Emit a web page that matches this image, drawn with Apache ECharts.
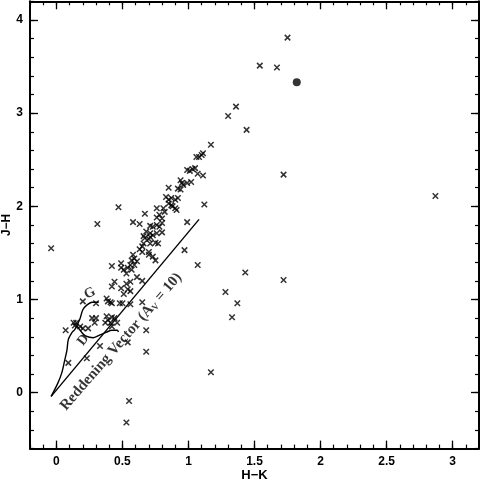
<!DOCTYPE html>
<html>
<head>
<meta charset="utf-8">
<script src="https://cdn.jsdelivr.net/npm/echarts@6/dist/echarts.min.js"></script>
<style>
  html, body { margin: 0; padding: 0; background: #fff; }
  #chart { width: 480px; height: 481px; }
</style>
</head>
<body>
<div id="chart"></div>
<script>
// stars (crosses): H-K and J-H colours
var crossHK = [-0.04, 0.31, 0.47, 1.12, 0.99, 0.97, 1.07, 1.43, 1.72, 1.28, 1.37, 1.33, 1.17, 0.55, 0.53,
  0.68, 0.68, 0.54, 0.33, 0.23, 0.09, 1.75, 1.54, 1.67, 1.36, 1.30, 1.44, 1.17, 1.11, 1.10,
  1.08, 1.06, 1.11, 1.72, 2.87, 0.99, 1.01, 1.03, 1.05, 1.07, 0.94, 0.95, 0.96, 0.99, 1.02,
  0.85, 0.92, 0.94, 0.83, 0.85, 0.87, 0.90, 0.92, 0.85, 0.87, 0.90, 0.91, 0.76, 0.81, 0.82,
  0.78, 0.76, 0.80, 0.67, 0.58, 0.63, 0.71, 0.73, 0.76, 0.78, 0.68, 0.71, 0.73, 0.76, 0.80,
  0.66, 0.67, 0.70, 0.71, 0.71, 0.75, 0.77, 0.66, 0.65, 0.63, 0.65, 0.70, 0.70, 0.73, 0.75,
  0.58, 0.59, 0.57, 0.61, 0.59, 0.56, 0.54, 0.57, 0.42, 0.49, 0.49, 0.51, 0.53, 0.44, 0.42,
  0.49, 0.53, 0.56, 0.61, 0.65, 0.20, 0.30, 0.54, 0.56, 0.51, 0.38, 0.39, 0.41, 0.42, 0.48,
  0.50, 0.56, 0.65, 0.27, 0.30, 0.29, 0.38, 0.39, 0.42, 0.44, 0.37, 0.41, 0.46, 0.42, 0.07,
  0.13, 0.15, 0.14, 0.18, 0.20, 0.24, 0.80, 0.88];
var crossJH = [1.55, 1.81, 1.99, 2.02, 1.83, 1.53, 1.37, 1.29, 1.21, 1.08, 0.96, 0.81, 0.22, -0.09, -0.32,
  0.67, 0.44, 0.54, 0.50, 0.37, 0.32, 3.81, 3.51, 3.49, 3.07, 2.97, 2.82, 2.66, 2.57, 2.55,
  2.53, 2.53, 2.33, 2.34, 2.11, 2.39, 2.38, 2.40, 2.41, 2.35, 2.28, 2.25, 2.23, 2.25, 2.26,
  2.20, 2.19, 2.18, 2.10, 2.07, 2.09, 2.07, 2.09, 2.03, 2.01, 1.98, 1.96, 1.98, 1.98, 1.94,
  1.91, 1.88, 1.87, 1.92, 1.83, 1.81, 1.79, 1.78, 1.80, 1.78, 1.73, 1.71, 1.69, 1.71, 1.72,
  1.68, 1.66, 1.65, 1.67, 1.60, 1.61, 1.60, 1.60, 1.57, 1.54, 1.51, 1.51, 1.48, 1.46, 1.42,
  1.48, 1.44, 1.42, 1.41, 1.37, 1.37, 1.34, 1.32, 1.36, 1.39, 1.34, 1.32, 1.28, 1.19, 1.14,
  1.12, 1.17, 1.19, 1.24, 1.20, 0.98, 0.96, 1.11, 1.09, 1.06, 1.01, 0.98, 0.97, 0.96, 0.96,
  0.96, 0.95, 0.97, 0.80, 0.80, 0.75, 0.82, 0.78, 0.81, 0.80, 0.75, 0.75, 0.75, 0.71, 0.67,
  0.75, 0.75, 0.72, 0.71, 0.69, 0.69, 1.82, 2.00];

// the single filled dot
var dotHK = [1.82];
var dotJH = [3.33];

// giant branch (G) and dwarf sequence (D)
var giantHK = [-0.04, 0.01, 0.04, 0.06, 0.08, 0.09, 0.115, 0.14, 0.155, 0.18, 0.20, 0.23, 0.27, 0.32];
var giantJH = [-0.04, 0.10, 0.21, 0.33, 0.46, 0.57, 0.64, 0.68, 0.72, 0.80, 0.89, 0.94, 0.97, 0.97];
var dwarfHK = [0.155, 0.19, 0.22, 0.28, 0.33, 0.38, 0.42, 0.46, 0.47];
var dwarfJH = [0.72, 0.65, 0.61, 0.59, 0.62, 0.65, 0.67, 0.67, 0.65];

// reddening vector A_V = 10
var vectorHK = [-0.04, 1.08];
var vectorJH = [-0.04, 1.86];

// annotation texts and their anchors
var noteText = ['G', 'D', 'Reddening Vector (A{s|V} = 10)'];
var noteHK = [0.254, 0.203, 0.05];
var noteJH = [1.066, 0.565, -0.17];
var noteAngle = [28, 52, 49];
var noteAlign = ['center', 'center', 'left'];
var noteSize = [14, 14, 15];

function pairs(xs, ys) {
  return xs.map(function (x, i) { return [x, ys[i]]; });
}

var font = 'Liberation Sans, Arial, sans-serif';
var serif = 'Liberation Serif, Times New Roman, serif';
var ink = '#000';

var minorX = {
  type: 'value', gridIndex: 0, min: -0.2, max: 3.2, interval: 0.1,
  axisLine: { show: true, onZero: false, lineStyle: { color: ink, width: 2 } },
  axisTick: { show: true, inside: true, length: 4, lineStyle: { color: ink, width: 1.2 } },
  axisLabel: { show: false }, splitLine: { show: false }
};
var minorY = {
  type: 'value', gridIndex: 0, min: -0.6, max: 4.2, interval: 0.2,
  axisLine: { show: true, onZero: false, lineStyle: { color: ink, width: 2 } },
  axisTick: { show: true, inside: true, length: 4, lineStyle: { color: ink, width: 1.2 } },
  axisLabel: { show: false }, splitLine: { show: false }
};
var majorX = {
  type: 'value', gridIndex: 1, min: 0, max: 3, interval: 0.5,
  axisLine: { show: false, onZero: false },
  axisTick: { show: true, inside: true, length: 8, lineStyle: { color: ink, width: 1.3 } },
  axisLabel: { show: false, color: ink, fontFamily: font, fontWeight: 'bold', fontSize: 12, margin: 7 },
  splitLine: { show: false }
};
var majorY = {
  type: 'value', gridIndex: 1, min: 0, max: 4, interval: 1,
  axisLine: { show: false, onZero: false },
  axisTick: { show: true, inside: true, length: 8, lineStyle: { color: ink, width: 1.3 } },
  axisLabel: { show: false, color: ink, fontFamily: font, fontWeight: 'bold', fontSize: 12, margin: 7 },
  splitLine: { show: false }
};

var chart = echarts.init(document.getElementById('chart'), null, { renderer: 'canvas' });

var lineStyle = { color: ink, width: 1.4 };

chart.setOption({
  animation: false,
  backgroundColor: '#fff',
  grid: [
    { left: 30, right: 1, top: 1.3, bottom: 32.4, containLabel: false, outerBoundsMode: 'none' },
    { left: 56.41, right: 27.41, top: 19.94, bottom: 88.31, containLabel: false, outerBoundsMode: 'none' }
  ],
  xAxis: [
    Object.assign({}, minorX, {
      position: 'bottom', name: 'H\u2212K', nameLocation: 'middle', nameGap: 20,
      nameTextStyle: { color: ink, fontFamily: font, fontWeight: 'bold', fontSize: 13 }
    }),
    Object.assign({}, minorX, { position: 'top' }),
    Object.assign({}, majorX, { position: 'bottom', offset: 55.91,
      axisLabel: Object.assign({}, majorX.axisLabel, { show: true }) }),
    Object.assign({}, majorX, { position: 'top', offset: 18.64 })
  ],
  yAxis: [
    Object.assign({}, minorY, {
      position: 'left', name: 'J\u2212H', nameLocation: 'middle', nameGap: 17, nameRotate: 90,
      nameTextStyle: { color: ink, fontFamily: font, fontWeight: 'bold', fontSize: 12 }
    }),
    Object.assign({}, minorY, { position: 'right' }),
    Object.assign({}, majorY, { position: 'left', offset: 26.41,
      axisLabel: Object.assign({}, majorY.axisLabel, { show: true }) }),
    Object.assign({}, majorY, { position: 'right', offset: 26.41 })
  ],
  series: [
    {
      type: 'scatter', xAxisIndex: 0, yAxisIndex: 0,
      data: pairs(crossHK, crossJH),
      symbol: 'path://M0,0L10,10M10,0L0,10',
      symbolSize: 5.5,
      itemStyle: { color: 'rgba(0,0,0,0)', borderColor: ink, borderWidth: 1.5 },
      z: 3
    },
    {
      type: 'scatter', xAxisIndex: 0, yAxisIndex: 0,
      data: pairs(dotHK, dotJH),
      symbol: 'circle', symbolSize: 8,
      itemStyle: { color: ink }
    },
    {
      type: 'line', xAxisIndex: 0, yAxisIndex: 0,
      data: pairs(vectorHK, vectorJH),
      showSymbol: false, lineStyle: lineStyle
    },
    {
      type: 'line', xAxisIndex: 0, yAxisIndex: 0,
      data: pairs(giantHK, giantJH), smooth: 0.3,
      showSymbol: false, lineStyle: lineStyle
    },
    {
      type: 'line', xAxisIndex: 0, yAxisIndex: 0,
      data: pairs(dwarfHK, dwarfJH), smooth: 0.3,
      showSymbol: false, lineStyle: lineStyle
    },
    {
      type: 'scatter', xAxisIndex: 0, yAxisIndex: 0,
      symbolSize: 0,
      data: noteText.map(function (t, i) {
        return {
          value: [noteHK[i], noteJH[i]],
          label: {
            show: true, position: 'inside', formatter: t, rotate: noteAngle[i],
            align: noteAlign[i], verticalAlign: 'middle',
            color: ink, fontFamily: serif, fontWeight: 'bold', fontSize: noteSize[i],
            rich: { s: { fontFamily: serif, fontWeight: 'bold', fontSize: 9, padding: [7, 0, 0, 0], color: ink } }
          }
        };
      }),
      z: 4
    }
  ]
});
</script>
</body>
</html>
